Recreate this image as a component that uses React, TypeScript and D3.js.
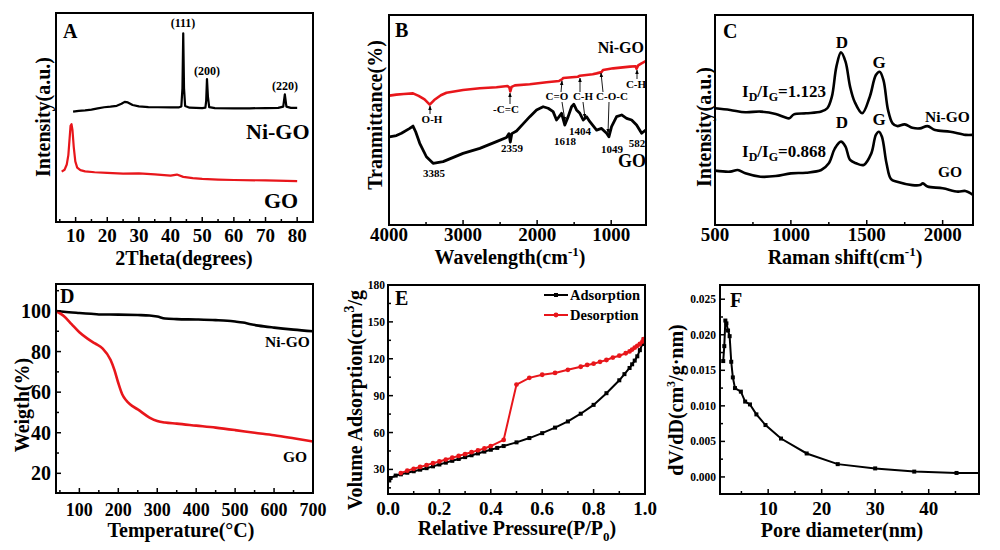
import React from 'react';
import * as d3 from 'd3';

type Pt = [number, number];

// ---------------- Panel A : XRD ----------------
const xrdTicks = [10, 20, 30, 40, 50, 60, 70, 80];
const xrdMinor = [5, 15, 25, 35, 45, 55, 65, 75];
const xrdNiGO: Pt[] = [
  [9.2, 52.8], [11, 53.2], [13, 53.4], [15, 53.8], [17, 54.4], [19, 54.9], [21, 55.2], [23, 55.6],
  [24.5, 56.6], [25.5, 57.5], [26.5, 57.2], [28, 56], [30, 55.3], [33, 55], [36, 54.9], [40, 54.8],
  [42.5, 54.8], [43.4, 55.3], [43.75, 64], [44.0, 90.3], [44.25, 64], [44.6, 55.5], [46, 54.7],
  [50, 54.5], [51.0, 54.7], [51.25, 58], [51.5, 68.4], [51.8, 60], [52.2, 55], [54, 54.5], [60, 54.4],
  [65, 54.4], [70, 54.5], [74, 54.6], [75.6, 55.2], [76.1, 61.1], [76.6, 55.2], [78, 54.6], [80, 54.6],
];
const xrdGO: Pt[] = [
  [5.6, 24.1], [6.5, 25], [7.2, 27.5], [7.7, 32], [8.1, 40], [8.4, 46], [8.7, 46.8], [9.0, 44],
  [9.4, 36], [9.9, 29], [10.5, 26], [11.5, 24.8], [13, 24.2], [16, 23.8], [20, 23.5], [25, 23.1],
  [30, 23.3], [35, 22.8], [40, 22.2], [42, 22.7], [44, 21.6], [47, 21], [50, 20.6], [55, 20.3],
  [60, 20.1], [70, 19.9], [80, 19.6],
];

// ---------------- Panel B : FTIR ----------------
const ftirTicks = [4000, 3000, 2000, 1000];
const ftirMinor = [3500, 2500, 1500];
const ftirNiGO: Pt[] = [
  [3995, 61.6], [3900, 62.1], [3800, 62.4], [3676, 62.7], [3600, 61.5], [3520, 59.8], [3450, 57.3],
  [3390, 59.5], [3300, 61.8], [3224, 63], [3000, 64.3], [2774, 65.1], [2549, 65.6], [2400, 66.2],
  [2375, 65.5], [2362, 63.6], [2345, 65.8], [2300, 66.5], [2099, 67], [1873, 68], [1703, 68.6],
  [1665, 69.3], [1649, 70], [1450, 70.6], [1423, 71.1], [1250, 71.8], [1197, 72.2], [1130, 72.8],
  [1110, 73.8], [973, 74.6], [747, 75.4], [670, 75.6], [657, 74.4], [635, 76], [590, 77], [535, 78],
];
const ftirGO: Pt[] = [
  [3995, 42], [3900, 42.6], [3832, 43.7], [3720, 46], [3676, 47.1], [3640, 44.4], [3585, 38.9],
  [3495, 32.5], [3405, 29.4], [3270, 30.2], [3000, 34.1], [2774, 36.5], [2549, 39.7], [2414, 41.7],
  [2380, 43.5], [2362, 39.5], [2342, 43.5], [2278, 44.8], [2180, 48.5], [2099, 51.6], [2008, 54.8],
  [1919, 56.3], [1851, 55.6], [1784, 54], [1738, 50], [1703, 51.6], [1670, 53.2], [1626, 47.6],
  [1581, 51.6], [1535, 56.3], [1504, 57.5], [1468, 54.8], [1423, 53.2], [1378, 50], [1332, 51.6],
  [1288, 49.2], [1197, 45.2], [1130, 46], [1062, 43.7], [1031, 42], [995, 46.8], [927, 51.6],
  [859, 52.4], [792, 50.8], [724, 50], [657, 47.6], [589, 43.7], [535, 45.2],
];

// ---------------- Panel C : Raman ----------------
const ramanTicks = [500, 1000, 1500, 2000];
const ramanMinor = [750, 1250, 1750];
const ramanNiGO: Pt[] = [
  [500, 55.6], [600, 54.8], [700, 53.7], [800, 54], [900, 52.9], [960, 51.3], [990, 50.8],
  [1020, 52.7], [1100, 53.2], [1200, 54], [1240, 55.6], [1270, 61.1], [1300, 75.4], [1330, 82.2],
  [1360, 77.8], [1390, 65.9], [1420, 58.7], [1470, 53.2], [1520, 61.1], [1560, 71.4], [1585, 73],
  [1610, 69], [1640, 54.8], [1670, 48.4], [1700, 47.1], [1750, 47.9], [1800, 46.3], [1850, 46],
  [1900, 47.1], [1950, 45.2], [2050, 44.4], [2150, 42.9], [2200, 42.9],
];
const ramanGO: Pt[] = [
  [500, 25.9], [600, 25.4], [650, 26.2], [700, 24.6], [800, 23], [900, 23.3], [1000, 24.6],
  [1100, 24.9], [1200, 26.2], [1250, 29.4], [1290, 36.5], [1330, 39.7], [1360, 37.3], [1390, 31],
  [1430, 29.4], [1480, 28.6], [1530, 34.1], [1560, 42.9], [1580, 44.4], [1600, 42], [1630, 29.4],
  [1660, 21.8], [1700, 20.6], [1800, 19], [1850, 19], [1870, 19.8], [1900, 18.3], [2000, 17.5],
  [2100, 15.9], [2150, 16.2], [2200, 14.3],
];

// ---------------- Panel D : TGA ----------------
const tgaXTicks = [100, 200, 300, 400, 500, 600, 700];
const tgaXMinor = [50, 150, 250, 350, 450, 550, 650];
const tgaYTicks = [20, 40, 60, 80, 100];
const tgaYMinor = [30, 50, 70, 90, 110];
const tgaNiGO: Pt[] = [
  [40, 100], [60, 99.6], [100, 99], [130, 98.6], [150, 98.3], [200, 98.2], [250, 98], [280, 97.8],
  [300, 97.3], [320, 96.3], [350, 96], [400, 95.8], [450, 95.5], [480, 95.2], [500, 94.8],
  [520, 94.3], [540, 93.5], [560, 92.8], [600, 91.8], [650, 90.8], [700, 90],
];
const tgaGO: Pt[] = [
  [40, 100], [60, 97.5], [80, 93.5], [100, 89.5], [120, 86.5], [140, 84], [160, 81.5], [180, 76],
  [190, 71], [200, 64.5], [210, 59], [220, 56], [230, 54], [250, 51.5], [280, 47.5], [300, 45.8],
  [320, 45], [350, 44.5], [400, 43.5], [450, 42.5], [500, 41.3], [550, 40], [600, 38.8],
  [650, 37.3], [700, 35.7],
];

// ---------------- Panel E : N2 isotherm ----------------
const betXTicks = [0, 0.2, 0.4, 0.6, 0.8, 1.0];
const betXMinor = [0.1, 0.3, 0.5, 0.7, 0.9];
const betYTicks = [30, 60, 90, 120, 150, 180];
const betYMinor = [15, 45, 75, 105, 135, 165];
const adsorption: Pt[] = [
  [0.005, 21], [0.01, 23], [0.03, 25], [0.05, 26], [0.075, 27.3], [0.1, 28.5], [0.125, 29.8],
  [0.15, 31], [0.175, 32.5], [0.2, 34], [0.225, 35.5], [0.25, 37], [0.275, 38.5], [0.3, 40],
  [0.325, 41.5], [0.35, 43], [0.375, 44.5], [0.4, 46], [0.425, 47.5], [0.45, 49], [0.5, 52],
  [0.55, 55.5], [0.6, 59.5], [0.65, 64], [0.7, 69], [0.75, 75.3], [0.8, 82.5], [0.85, 92],
  [0.9, 102.5], [0.92, 107.5], [0.94, 112.5], [0.95, 115.5], [0.96, 118.5], [0.97, 122],
  [0.98, 127], [0.99, 132], [0.995, 136],
];
const desorption: Pt[] = [
  [0.995, 136], [0.99, 134], [0.98, 132], [0.97, 130.5], [0.96, 129], [0.95, 127.5], [0.94, 126],
  [0.925, 124.5], [0.9, 122.5], [0.875, 121], [0.85, 119], [0.825, 117.5], [0.8, 116],
  [0.775, 115], [0.75, 113.5], [0.7, 111], [0.65, 108.5], [0.6, 107], [0.55, 104.5], [0.5, 99],
  [0.45, 54], [0.4, 49], [0.375, 47], [0.35, 45.5], [0.325, 44], [0.3, 42.5], [0.275, 41],
  [0.25, 39.5], [0.225, 38], [0.2, 36.5], [0.175, 35], [0.15, 33.5], [0.125, 32], [0.1, 30.5],
  [0.075, 29], [0.05, 27],
];

// ---------------- Panel F : pore size distribution ----------------
const poreXTicks = [10, 20, 30, 40];
const poreXMinor = [5, 15, 25, 35, 45];
const poreYTicks = [0, 0.005, 0.01, 0.015, 0.02, 0.025];
const poreYMinor = [0.0025, 0.0075, 0.0125, 0.0175, 0.0225];
const poreDist: Pt[] = [
  [1.6, 0.0163], [1.8, 0.0184], [2.0, 0.022], [2.2, 0.0216], [2.5, 0.0206], [2.8, 0.0198],
  [3.1, 0.0162], [3.4, 0.014], [3.8, 0.0125], [4.9, 0.012], [5.7, 0.0106], [6.6, 0.0102],
  [7.8, 0.0088], [9.5, 0.0073], [12.4, 0.0054], [17.2, 0.0033], [23, 0.0018], [30, 0.0012],
  [37.3, 0.00075], [45.2, 0.00056], [49.4, 0.00056],
];
const poreMarked = 20; // number of measured points carrying a marker

const FONT = '"Liberation Serif", "Times New Roman", Times, serif';
const RED = '#e8161b';

type Scale = d3.ScaleLinear<number, number>;

function Frame({ l, r, t, b }: { l: number; r: number; t: number; b: number }) {
  return <rect x={l} y={t} width={r - l} height={b - t} fill="none" stroke="#000" strokeWidth={2} />;
}

function XAxis({ s, bottom, major, minor, fmt, size, labelY }: {
  s: Scale; bottom: number; major: number[]; minor: number[]; fmt: (v: number) => string; size: number; labelY: number;
}) {
  return (
    <g>
      {minor.map((v) => (
        <line key={'m' + v} x1={s(v)} x2={s(v)} y1={bottom} y2={bottom - 3} stroke="#000" strokeWidth={1.5} />
      ))}
      {major.map((v) => (
        <g key={'M' + v}>
          <line x1={s(v)} x2={s(v)} y1={bottom} y2={bottom - 5} stroke="#000" strokeWidth={1.5} />
          <text x={s(v)} y={labelY} textAnchor="middle" fontSize={size}>{fmt(v)}</text>
        </g>
      ))}
    </g>
  );
}

function YAxis({ s, left, major, minor, fmt, size, labelX }: {
  s: Scale; left: number; major: number[]; minor: number[]; fmt: (v: number) => string; size: number; labelX: number;
}) {
  return (
    <g>
      {minor.map((v) => (
        <line key={'m' + v} x1={left} x2={left + 3} y1={s(v)} y2={s(v)} stroke="#000" strokeWidth={1.5} />
      ))}
      {major.map((v) => (
        <g key={'M' + v}>
          <line x1={left} x2={left + 5} y1={s(v)} y2={s(v)} stroke="#000" strokeWidth={1.5} />
          <text x={labelX} y={s(v)} textAnchor="end" dominantBaseline="central" fontSize={size}>{fmt(v)}</text>
        </g>
      ))}
    </g>
  );
}

function path(data: Pt[], xs: Scale, ys: Scale, curve: d3.CurveFactory = d3.curveLinear) {
  return d3.line<Pt>().x((d) => xs(d[0])).y((d) => ys(d[1])).curve(curve)(data) || '';
}

function YTitle({ x, y, children, size = 20 }: { x: number; y: number; children: React.ReactNode; size?: number }) {
  return (
    <text transform={`translate(${x},${y}) rotate(-90)`} textAnchor="middle" fontSize={size}>{children}</text>
  );
}

function Arrow({ x1, y1, x2, y2 }: { x1: number; y1: number; x2: number; y2: number }) {
  return <line x1={x1} y1={y1} x2={x2} y2={y2} stroke="#000" strokeWidth={0.9} markerEnd="url(#ah)" />;
}

export default function App() {
  // A
  const ax = d3.scaleLinear().domain([3.8, 85]).range([56, 313]);
  const ay = d3.scaleLinear().domain([0, 100]).range([222, 13]);
  // B
  const bx = d3.scaleLinear().domain([4000, 530]).range([389, 646]);
  const by = d3.scaleLinear().domain([0, 100]).range([225, 15]);
  // C
  const cx = d3.scaleLinear().domain([500, 2200]).range([715, 973]);
  const cy = d3.scaleLinear().domain([0, 100]).range([225, 15]);
  // D
  const dx = d3.scaleLinear().domain([40, 700]).range([56, 313]);
  const dy = d3.scaleLinear().domain([10.3, 113.3]).range([493, 284]);
  // E
  const ex = d3.scaleLinear().domain([0, 1]).range([388, 645]);
  const ey = d3.scaleLinear().domain([10, 180]).range([494, 285]);
  // F
  const fx = d3.scaleLinear().domain([1, 49.4]).range([720, 979]);
  const fy = d3.scaleLinear().domain([-0.0024, 0.027]).range([494, 285]);

  const int = (v: number) => String(v);
  const one = (v: number) => v.toFixed(1);
  const three = (v: number) => v.toFixed(3);

  return (
    <svg width={1000} height={550} viewBox="0 0 1000 550"
      style={{ position: 'absolute', left: 0, top: 0, background: '#fff' }}
      fontFamily={FONT} fontWeight="bold">
      <defs>
        <marker id="ah" viewBox="0 0 10 10" refX="9" refY="5" markerWidth="5" markerHeight="5" orient="auto-start-reverse">
          <path d="M0,1 L10,5 L0,9 z" fill="#000" />
        </marker>
      </defs>
      <rect x={0} y={0} width={1000} height={550} fill="#fff" />

      {/* ---------- A ---------- */}
      <g>
        <path d={path(xrdGO, ax, ay)} fill="none" stroke={RED} strokeWidth={2.2} strokeLinejoin="round" />
        <path d={path(xrdNiGO, ax, ay)} fill="none" stroke="#000" strokeWidth={2.2} strokeLinejoin="round" />
        <Frame l={56} r={313} t={13} b={222} />
        <XAxis s={ax} bottom={222} major={xrdTicks} minor={xrdMinor} fmt={int} size={19} labelY={242} />
        <text x={63} y={38} fontSize={20}>A</text>
        <text x={183} y={27} fontSize={12} textAnchor="middle">(111)</text>
        <text x={207} y={75} fontSize={12} textAnchor="middle">(200)</text>
        <text x={285} y={90} fontSize={12} textAnchor="middle">(220)</text>
        <text x={246} y={139} fontSize={22}>Ni-GO</text>
        <text x={264} y={208} fontSize={22}>GO</text>
        <text x={184} y={265} fontSize={20} textAnchor="middle">2Theta(degrees)</text>
        <YTitle x={50} y={117}>Intensity(a.u.)</YTitle>
      </g>

      {/* ---------- B ---------- */}
      <g>
        <path d={path(ftirNiGO, bx, by)} fill="none" stroke={RED} strokeWidth={2.6} strokeLinejoin="round" />
        <path d={path(ftirGO, bx, by)} fill="none" stroke="#000" strokeWidth={2.8} strokeLinejoin="round" />
        <Frame l={389} r={646} t={15} b={225} />
        <XAxis s={bx} bottom={225} major={ftirTicks} minor={ftirMinor} fmt={int} size={19} labelY={241} />
        <text x={395} y={37} fontSize={20}>B</text>
        <text x={644} y={53} fontSize={16} textAnchor="end">Ni-GO</text>
        <text x={618} y={167} fontSize={18}>GO</text>
        <g fontSize={11} textAnchor="middle">
          <text x={432} y={123}>O-H</text>
          <text x={506} y={113}>-C=C</text>
          <text x={557} y={100}>C=O</text>
          <text x={583} y={100}>C-H</text>
          <text x={612} y={100}>C-O-C</text>
          <text x={636} y={88}>C-H</text>
          <text x={434} y={177}>3385</text>
          <text x={512} y={152}>2359</text>
          <text x={565} y={145}>1618</text>
          <text x={580} y={135}>1404</text>
          <text x={612} y={153}>1049</text>
          <text x={637} y={147}>582</text>
        </g>
        <Arrow x1={430} y1={114} x2={430} y2={106} />
        <Arrow x1={510} y1={104} x2={510} y2={93} />
        <Arrow x1={561} y1={92} x2={562} y2={81} />
        <Arrow x1={562} y1={102} x2={565} y2={121} />
        <Arrow x1={580} y1={92} x2={580} y2={78} />
        <Arrow x1={583} y1={102} x2={585} y2={118} />
        <Arrow x1={603} y1={92} x2={601} y2={73} />
        <Arrow x1={609} y1={102} x2={608} y2={133} />
        <Arrow x1={637} y1={79} x2={637} y2={70} />
        <text x={510} y={264} fontSize={20} textAnchor="middle">
          Wavelength(cm<tspan dy={-8} fontSize={13}>-1</tspan><tspan dy={8}>)</tspan>
        </text>
        <YTitle x={382} y={115}>Tranmittance(%)</YTitle>
      </g>

      {/* ---------- C ---------- */}
      <g>
        <path d={path(ramanNiGO, cx, cy, d3.curveCatmullRom.alpha(0.5))} fill="none" stroke="#000" strokeWidth={2.6} />
        <path d={path(ramanGO, cx, cy, d3.curveCatmullRom.alpha(0.5))} fill="none" stroke="#000" strokeWidth={2.6} />
        <Frame l={715} r={973} t={15} b={225} />
        <XAxis s={cx} bottom={225} major={ramanTicks} minor={ramanMinor} fmt={int} size={19} labelY={241} />
        <text x={723} y={38} fontSize={20}>C</text>
        <text x={842} y={48} fontSize={17} textAnchor="middle">D</text>
        <text x={879} y={68} fontSize={17} textAnchor="middle">G</text>
        <text x={842} y={128} fontSize={17} textAnchor="middle">D</text>
        <text x={879} y={125} fontSize={17} textAnchor="middle">G</text>
        <text x={742} y={97} fontSize={17}>
          I<tspan dy={4} fontSize={12}>D</tspan><tspan dy={-4}>/I</tspan><tspan dy={4} fontSize={12}>G</tspan><tspan dy={-4}>=1.123</tspan>
        </text>
        <text x={742} y={157} fontSize={17}>
          I<tspan dy={4} fontSize={12}>D</tspan><tspan dy={-4}>/I</tspan><tspan dy={4} fontSize={12}>G</tspan><tspan dy={-4}>=0.868</tspan>
        </text>
        <text x={925} y={122} fontSize={15.5}>Ni-GO</text>
        <text x={938} y={177} fontSize={15.5}>GO</text>
        <text x={845} y={264} fontSize={20} textAnchor="middle">
          Raman shift(cm<tspan dy={-8} fontSize={13}>-1</tspan><tspan dy={8}>)</tspan>
        </text>
        <YTitle x={711} y={127}>Intensity(a.u.)</YTitle>
      </g>

      {/* ---------- D ---------- */}
      <g>
        <path d={path(tgaNiGO, dx, dy, d3.curveMonotoneX)} fill="none" stroke="#000" strokeWidth={2.6} />
        <path d={path(tgaGO, dx, dy, d3.curveMonotoneX)} fill="none" stroke={RED} strokeWidth={2.6} />
        <Frame l={56} r={313} t={284} b={493} />
        <XAxis s={dx} bottom={493} major={tgaXTicks} minor={tgaXMinor} fmt={int} size={18} labelY={516} />
        <YAxis s={dy} left={56} major={tgaYTicks} minor={tgaYMinor} fmt={int} size={20} labelX={51} />
        <text x={60} y={303} fontSize={20}>D</text>
        <text x={265} y={347} fontSize={15.5}>Ni-GO</text>
        <text x={283} y={462} fontSize={15.5}>GO</text>
        <text x={181} y={537} fontSize={20} textAnchor="middle">Temperature(°C)</text>
        <YTitle x={29} y={405}>Weigth(%)</YTitle>
      </g>

      {/* ---------- E ---------- */}
      <g>
        <path d={path(adsorption, ex, ey)} fill="none" stroke="#000" strokeWidth={2} />
        {adsorption.map((d, i) => (
          <rect key={'a' + i} x={ex(d[0]) - 2} y={ey(d[1]) - 2} width={4} height={4} fill="#000" />
        ))}
        <path d={path(desorption, ex, ey)} fill="none" stroke={RED} strokeWidth={2} />
        {desorption.map((d, i) => (
          <circle key={'d' + i} cx={ex(d[0])} cy={ey(d[1])} r={2.4} fill={RED} />
        ))}
        <Frame l={388} r={645} t={285} b={494} />
        <XAxis s={ex} bottom={494} major={betXTicks} minor={betXMinor} fmt={one} size={19} labelY={515} />
        <YAxis s={ey} left={388} major={betYTicks} minor={betYMinor} fmt={int} size={11.5} labelX={385} />
        <text x={395} y={305} fontSize={20}>E</text>
        <line x1={544} x2={568} y1={295} y2={295} stroke="#000" strokeWidth={2} />
        <rect x={554} y={293} width={4} height={4} fill="#000" />
        <text x={570} y={300} fontSize={14.5}>Adsorption</text>
        <line x1={544} x2={568} y1={315} y2={315} stroke={RED} strokeWidth={2} />
        <circle cx={556} cy={315} r={2.4} fill={RED} />
        <text x={570} y={320} fontSize={14.5}>Desorption</text>
        <text x={517} y={535} fontSize={20} textAnchor="middle">
          Relative Pressure(P/P<tspan dy={6} fontSize={13}>0</tspan><tspan dy={-6}>)</tspan>
        </text>
        <YTitle x={362} y={400}>
          Volume Adsorption(cm<tspan dy={-8} fontSize={14}>3</tspan><tspan dy={8}>/g</tspan>
        </YTitle>
      </g>

      {/* ---------- F ---------- */}
      <g>
        <path d={path(poreDist, fx, fy)} fill="none" stroke="#000" strokeWidth={2} />
        {poreDist.slice(0, poreMarked).map((d, i) => (
          <rect key={'p' + i} x={fx(d[0]) - 2} y={fy(d[1]) - 2} width={4} height={4} fill="#000" />
        ))}
        <Frame l={720} r={979} t={285} b={494} />
        <XAxis s={fx} bottom={494} major={poreXTicks} minor={poreXMinor} fmt={int} size={19} labelY={515} />
        <YAxis s={fy} left={720} major={poreYTicks} minor={poreYMinor} fmt={three} size={11.5} labelX={716} />
        <text x={730} y={307} fontSize={20}>F</text>
        <text x={842} y={537} fontSize={20} textAnchor="middle">Pore diameter(nm)</text>
        <YTitle x={683} y={400}>
          dV/dD(cm<tspan dy={-8} fontSize={12}>3</tspan><tspan dy={8}>/g·nm)</tspan>
        </YTitle>
      </g>
    </svg>
  );
}
